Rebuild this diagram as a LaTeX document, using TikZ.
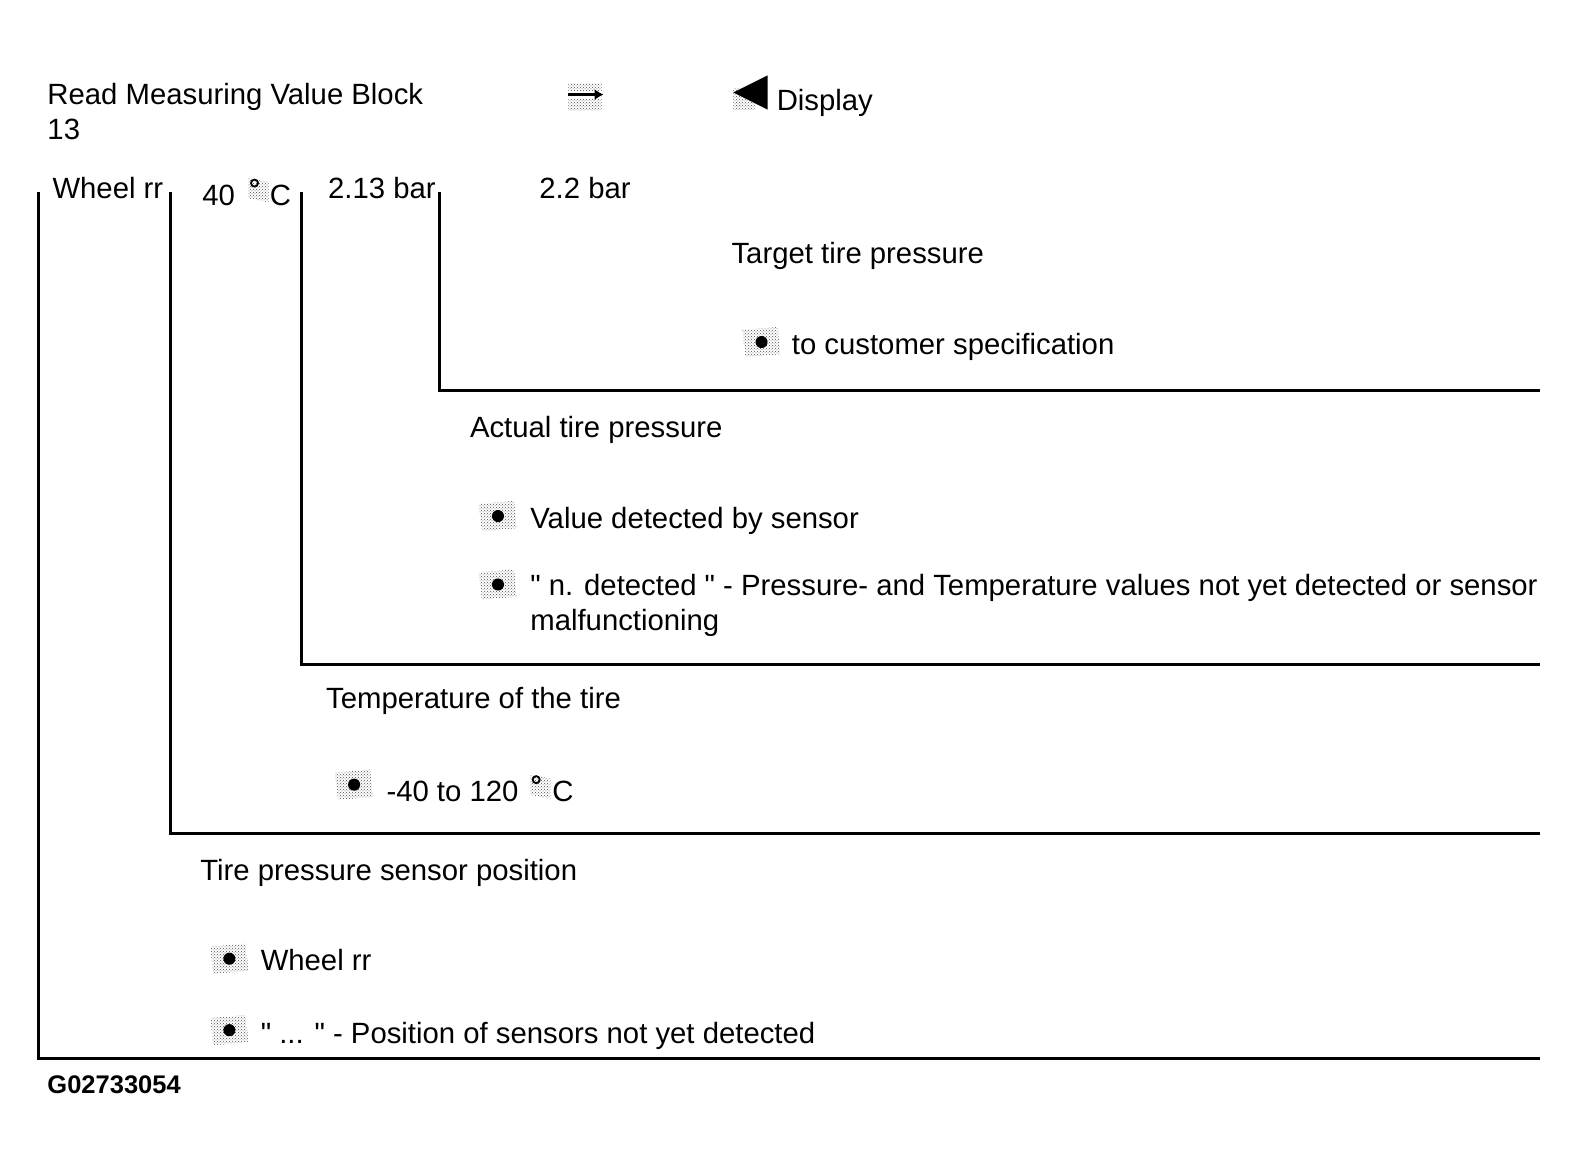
\documentclass[tikz,border=0pt]{standalone}
\usepackage{fontspec}
\setmainfont{Liberation Sans}
\newfontfamily\qfont{Liberation Sans}
\usetikzlibrary{patterns,arrows.meta}
\newcommand{\dq}{{\qfont"}}
\begin{document}
\begin{tikzpicture}[x=1.006pt,y=-1.006pt,
  txt/.style={anchor=base west,inner sep=0pt,font=\fontsize{29.3}{35}\selectfont},
  code/.style={anchor=base west,inner sep=0pt,font=\fontsize{25.5}{30}\selectfont\bfseries},
  brk/.style={line width=3pt,line join=miter},
  stip/.style={pattern=crosshatch dots,pattern color=black!70},
  bulleticon/.pic={
    \path[stip] (-19,-12) -- (16,-15) -- (19,12) -- (-16,15) -- cycle;
    \fill (0,0) circle (6);
  },
  degicon/.pic={
    \path[stip] (-10,-12) -- (10,-8) -- (10,12) -- (-10,8) -- cycle;
    \draw[line width=1.8pt] (-4,-7) circle (3.5);
  }
]
\useasboundingbox[fill=white] (0pt,0pt) rectangle (1577pt,-1169pt);

% header
\node[txt] (title) at (47,104) {Read Measuring Value Block};
\node[txt] (title2) at (47,139) {13};
\path[stip] (565,83) rectangle (598,90);
\path[stip] (565,99) rectangle (598,110);
\draw[line width=3pt,-{Latex[length=9pt,width=11pt]}] (565,94) -- (600,94);
\path[stip] (729,88) rectangle (750,109);
\fill (729,92) -- (763,75) -- (763,109) -- cycle;
\node[txt] (display) at (772,110) {Display};

% value row
\node[txt] (v1) at (52,197) {Wheel rr};
\node[txt] (v2) at (201,204) {40};
\pic at (257,189) {degicon};
\node[txt] (v2c) at (268,204) {C};
\node[txt] (v3) at (326,197) {2.13 bar};
\node[txt] (v4) at (536,197) {2.2 bar};

% bracket coordinates
\coordinate (b1t) at (38,191);   \coordinate (b1e) at (1531,1052);
\coordinate (b2t) at (169,191);  \coordinate (b2e) at (1531,829);
\coordinate (b3t) at (300,191);  \coordinate (b3e) at (1531,661);
\coordinate (b4t) at (437,191);  \coordinate (b4e) at (1531,388);
\draw[brk] (b1t) |- (b1e);
\draw[brk] (b2t) |- (b2e);
\draw[brk] (b3t) |- (b3e);
\draw[brk] (b4t) |- (b4e);

% target pressure
\node[txt] (t1) at (727,262) {Target tire pressure};
\pic at (757,340) {bulleticon};
\node[txt] (t2) at (787,352) {to customer specification};

% actual pressure
\node[txt] (a1) at (467,435) {Actual tire pressure};
\pic at (495,513) {bulleticon};
\node[txt] (a2) at (527,525) {Value detected by sensor};
\pic at (495,581) {bulleticon};
\node[txt] (a3) at (527,592) {\dq{} n. detected \dq{} - Pressure- and Temperature values not yet detected or sensor};
\node[txt] (a4) at (527,627) {malfunctioning};

% temperature
\node[txt] (m1) at (324,704) {Temperature of the tire};
\pic at (352,780) {bulleticon};
\node[txt] (m2) at (384,797) {-40 to 120};
\pic at (537,782) {degicon};
\node[txt] (m2c) at (549,797) {C};

% position
\node[txt] (p1) at (199,875) {Tire pressure sensor position};
\pic at (228,953) {bulleticon};
\node[txt] (p2) at (259,965) {Wheel rr};
\pic at (228,1024) {bulleticon};
\node[txt] (p3) at (259,1037) {\dq{} ... \dq{} - Position of sensors not yet detected};

\node[code] (id) at (47,1087) {G02733054};
\end{tikzpicture}
\end{document}
